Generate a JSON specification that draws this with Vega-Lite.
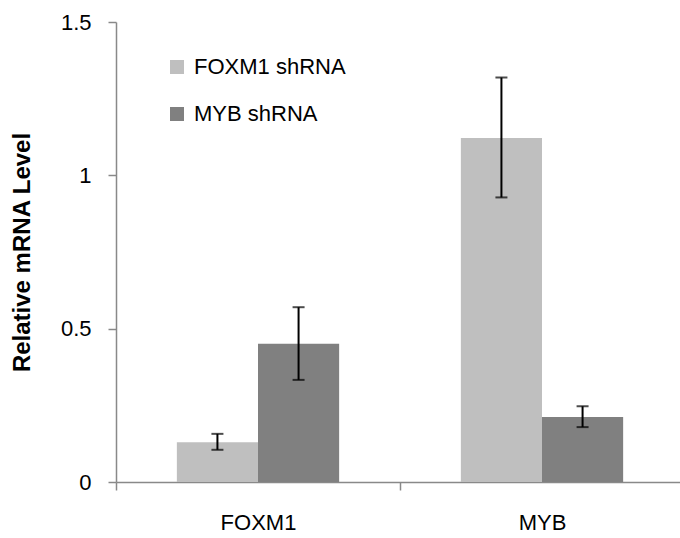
{
  "$schema": "https://vega.github.io/schema/vega-lite/v6.json",
  "width": 564,
  "height": 460,
  "autosize": {"type": "none"},
  "padding": {"left": 116, "top": 22, "right": 0, "bottom": 56},
  "background": "white",
  "config": {
    "view": {"stroke": null},
    "font": "Liberation Sans",
    "axis": {"grid": false, "domainColor": "#898989", "tickColor": "#898989", "domainWidth": 1.5, "tickWidth": 1.5, "labelColor": "black", "labelFont": "Liberation Sans", "labelFontSize": 22, "titleColor": "black"}
  },
  "data": {
    "values": [
      {"gene": "FOXM1", "shRNA": "FOXM1 shRNA", "level": 0.13, "lo": 0.105, "hi": 0.157},
      {"gene": "FOXM1", "shRNA": "MYB shRNA", "level": 0.451, "lo": 0.333, "hi": 0.57},
      {"gene": "MYB", "shRNA": "FOXM1 shRNA", "level": 1.122, "lo": 0.928, "hi": 1.319},
      {"gene": "MYB", "shRNA": "MYB shRNA", "level": 0.212, "lo": 0.179, "hi": 0.247}
    ]
  },
  "encoding": {
    "x": {
      "field": "gene",
      "type": "nominal",
      "scale": {"domain": ["FOXM1", "MYB"], "paddingInner": 0, "paddingOuter": 0, "range": [0, 568]},
      "axis": {"title": null, "labelAngle": 0, "tickSize": 8, "tickBand": "extent", "labelPadding": 22}
    },
    "xOffset": {
      "field": "shRNA",
      "type": "nominal",
      "scale": {"domain": ["FOXM1 shRNA", "MYB shRNA"], "paddingInner": 0, "paddingOuter": 0.75}
    }
  },
  "layer": [
    {
      "mark": {"type": "bar"},
      "encoding": {
        "y": {
          "field": "level",
          "type": "quantitative",
          "scale": {"domain": [0, 1.5], "nice": false, "zero": true},
          "axis": {"title": "Relative mRNA Level", "titleFont": "Liberation Sans", "titleFontSize": 24, "titleFontWeight": "bold", "titlePadding": 26, "values": [0, 0.5, 1, 1.5], "format": "~g", "tickSize": 8, "labelPadding": 17}
        },
        "color": {
          "field": "shRNA",
          "type": "nominal",
          "scale": {"domain": ["FOXM1 shRNA", "MYB shRNA"], "range": ["#BFBFBF", "#808080"]},
          "legend": {"orient": "none", "legendX": 50, "legendY": 34, "title": null, "symbolType": "square", "symbolSize": 196, "symbolStrokeWidth": 0, "labelFont": "Liberation Sans", "labelFontSize": 22, "labelColor": "black", "labelOffset": 6, "rowPadding": 25}
        }
      }
    },
    {
      "mark": {"type": "rule", "color": "black", "strokeWidth": 2},
      "encoding": {"y": {"field": "lo", "type": "quantitative", "scale": {"domain": [0, 1.5], "nice": false}}, "y2": {"field": "hi"}}
    },
    {
      "mark": {"type": "tick", "color": "black", "thickness": 2, "size": 12, "orient": "horizontal"},
      "encoding": {"y": {"field": "lo", "type": "quantitative", "scale": {"domain": [0, 1.5], "nice": false}}}
    },
    {
      "mark": {"type": "tick", "color": "black", "thickness": 2, "size": 12, "orient": "horizontal"},
      "encoding": {"y": {"field": "hi", "type": "quantitative", "scale": {"domain": [0, 1.5], "nice": false}}}
    }
  ]
}
